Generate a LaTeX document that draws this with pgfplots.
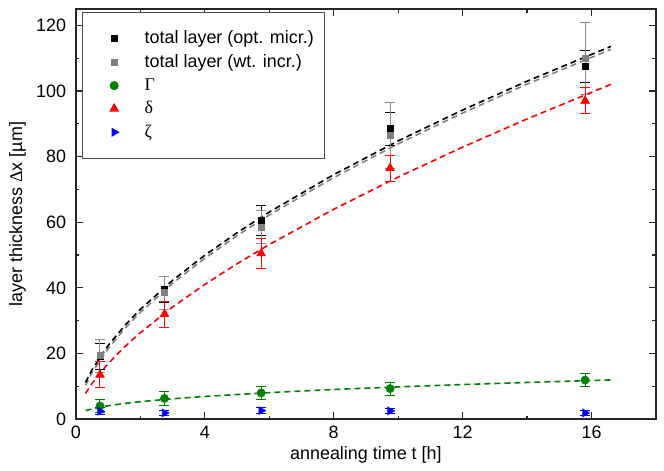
\documentclass[border=0pt]{standalone}
\usepackage{fontspec}
\setmainfont{Liberation Sans}
\newfontfamily\grk{Liberation Serif}
\usepackage{pgfplots}
\usepackage{pgfplotstable}
\pgfplotsset{compat=1.18}

% measured points: t [h], thickness [um], error
\pgfplotstableread{
t y e
0.75 19.0 4.0
2.75 39.5 4.0
5.75 60.5 4.5
9.75 88.5 5.0
15.8 107.5 5.0
}\opt
\pgfplotstableread{
t y e
0.75 19.3 5.0
2.75 38.5 5.0
5.75 58.5 5.0
9.75 86.5 10.0
15.8 110.0 11.0
}\wt
\pgfplotstableread{
t y e
0.75 13.5 4.0
2.75 32.0 4.0
5.75 50.5 4.5
9.75 76.5 4.0
15.8 97.0 4.0
}\delt
\pgfplotstableread{
t y e
0.75 4.0 2.0
2.75 6.3 2.0
5.75 8.0 2.0
9.75 9.3 2.0
15.8 11.9 2.0
}\gam
\pgfplotstableread{
t y e
0.75 2.4 1.0
2.75 1.9 0.8
5.75 2.6 0.8
9.75 2.5 0.8
15.8 1.9 0.8
}\zet

\definecolor{cgreen}{RGB}{0,128,0}
\definecolor{cgrey}{RGB}{128,128,128}

\begin{document}
\begin{tikzpicture}
\begin{axis}[
    width=290bp, height=205bp,
    scale only axis,
    xmin=0, xmax=18, ymin=0, ymax=125,
    xtick={0,4,...,16}, ytick={0,20,...,120},
    minor x tick num=1, minor y tick num=1,
    tick align=inside,
    major tick length=3.5bp, minor tick length=1.8bp,
    axis line style={line width=0.9bp, black!85},
    tick style={line width=0.6bp, black!85},
    font=\fontsize{9}{11}\selectfont,
    /pgf/number format/assume math mode=true,
    yticklabel style={xshift=-1.3bp},
    xlabel={annealing time t [h]},
    ylabel={layer thickness {\grk Δ}x [µm]},
    xlabel style={yshift=3bp},
    ylabel style={yshift=-1.7bp},
    legend style={at={(rel axis cs:0.011,0.993)}, anchor=north west,
        draw=black!70, line width=0.5bp, inner xsep=3.5bp, inner ysep=7bp,
        row sep=0bp, font=\fontsize{9}{11}\selectfont},
    legend cell align=left,
    legend image code/.code={\path (0bp,0bp) (25bp,0bp);
        \draw[#1] plot coordinates {(12bp,0bp)};},
    error bars/error bar style={line width=0.5bp},
    error bars/error mark options={rotate=90, mark size=2.5bp, line width=0.5bp},
]
% fitted curves (dashed)
\addplot[forget plot, cgrey, line width=0.8bp, dash pattern=on 3bp off 2bp] coordinates {
(0.3,10.3) (0.5,14.1) (1,21.5) (1.5,27.4) (2,32.5) (3,41.4) (4,49.0)
(5,55.9) (6,62.2) (8,73.6) (10,83.9) (12,93.3) (14,102.1) (16.6,112.7)};
\addplot[forget plot, black, line width=0.8bp, dash pattern=on 3bp off 2bp] coordinates {
(0.3,11.17) (0.5,15.01) (1,22.40) (1.5,28.31) (2,33.44) (3,42.27) (4,49.92)
(5,56.79) (6,63.10) (8,74.50) (10,84.80) (12,94.20) (14,103.00) (16.6,113.60)};
\addplot[forget plot, red, line width=0.8bp, dash pattern=on 3bp off 2bp] coordinates {
(0.3,7.82) (0.5,10.84) (1,16.90) (1.5,21.91) (2,26.34) (3,34.14) (4,41.04)
(5,47.34) (6,53.20) (8,63.96) (10,73.77) (12,82.90) (14,91.49) (16.7,102.43)};
\addplot[forget plot, cgreen, line width=0.8bp, dash pattern=on 3bp off 2bp] coordinates {
(0.3,2.57) (0.5,3.12) (1,4.07) (1.5,4.75) (2,5.31) (3,6.20) (4,6.92)
(6,8.08) (8,9.03) (10,9.83) (12,10.54) (14,11.18) (16.6,11.94)};
% measured points
\addplot[only marks, mark=square*, mark size=1.5bp, black,
    error bars/.cd, y dir=both, y explicit]
    table[x=t, y=y, y error=e] {\opt};
\addplot[only marks, mark=square*, mark size=1.5bp, cgrey,
    error bars/.cd, y dir=both, y explicit,
    error bar style={black!45, line width=0.5bp}]
    table[x=t, y=y, y error=e] {\wt};
\addplot[only marks, mark=*, mark size=2bp, cgreen,
    error bars/.cd, y dir=both, y explicit]
    table[x=t, y=y, y error=e] {\gam};
\addplot[only marks, mark=triangle*, mark size=2.4bp, red,
    error bars/.cd, y dir=both, y explicit]
    table[x=t, y=y, y error=e] {\delt};
\addplot[only marks, mark=triangle*, mark size=2.2bp, blue, mark options={rotate=-90},
    error bars/.cd, y dir=both, y explicit]
    table[x=t, y=y, y error=e] {\zet};
\legend{total layer (opt. micr.), total layer (wt. incr.), {\grk Γ}, {\grk δ}, {\grk ζ}}
\end{axis}
% margins as in the reference
\path ([xshift=-37.9bp]current axis.south west) ([yshift=-25.7bp]current axis.south west)
      ([xshift=4bp,yshift=4.5bp]current axis.north east);
\end{tikzpicture}
\end{document}
